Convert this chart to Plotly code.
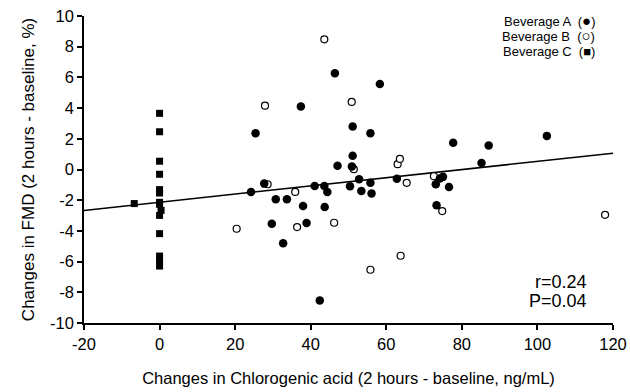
import plotly.graph_objects as go

# Beverage A (filled circles)
bev_a_x = [25.4, 37.4, 46.4, 58.3, 51.1, 55.8, 51.1, 50.9, 47.1, 24.2, 27.7, 30.75, 33.7,
           37.97, 29.7, 38.9, 32.7, 41.05, 43.6, 44.4, 43.7, 42.4, 50.4, 52.8, 53.4, 55.8,
           56.1, 62.8, 73.1, 73.3, 74.2, 75.0, 76.6, 77.7, 87.1, 85.2, 102.5]
bev_a_y = [2.36, 4.10, 6.27, 5.57, 2.80, 2.36, 0.89, 0.19, 0.24, -1.46, -0.92, -1.94, -1.94,
           -2.38, -3.53, -3.49, -4.80, -1.07, -1.07, -1.46, -2.44, -8.53, -1.09, -0.63, -1.40,
           -0.87, -1.57, -0.61, -0.96, -2.33, -0.59, -0.48, -1.14, 1.74, 1.56, 0.43, 2.19]

# Beverage B (open circles)
bev_b_x = [43.6, 27.9, 50.85, 51.4, 63.0, 63.6, 65.4, 28.6, 35.9, 20.4, 36.4, 46.2,
           63.8, 55.8, 72.6, 74.8, 117.9]
bev_b_y = [8.48, 4.16, 4.40, 0.02, 0.35, 0.69, -0.87, -0.96, -1.46, -3.86, -3.75, -3.47,
           -5.62, -6.53, -0.44, -2.71, -2.95]

# Beverage C (filled squares)
bev_c_x = [-6.7, 0, 0, 0, 0, 0, 0, 0, 0, 0.4, 0, 0, 0, 0, 0]
bev_c_y = [-2.22, 3.66, 2.46, 0.54, -0.31, -1.31, -1.53, -2.14, -2.27, -2.66, -2.99,
           -4.18, -5.64, -5.97, -6.29]

# Regression line end points
fit_x = [-20, 120]
fit_y = [-2.67, 1.06]

x_ticks = [-20, 0, 20, 40, 60, 80, 100, 120]
y_ticks = [-10, -8, -6, -4, -2, 0, 2, 4, 6, 8, 10]

legend_names = ["Beverage A", "Beverage B", "Beverage C"]
legend_glyphs = ["\u25cf", "\u25cb", "\u25a0"]
glyph_sizes = [15, 15, 13]
stats_labels = ["r=0.24", "P=0.04"]

FONT = "Liberation Sans, Arial, sans-serif"

fig = go.Figure()
fig.add_trace(go.Scatter(x=fit_x, y=fit_y, mode="lines",
                         line=dict(color="black", width=1.5), showlegend=False,
                         hoverinfo="skip"))
fig.add_trace(go.Scatter(x=bev_b_x, y=bev_b_y, mode="markers", name="Beverage B",
                         marker=dict(symbol="circle", size=7, color="white",
                                     line=dict(color="black", width=1.2)),
                         showlegend=False))
fig.add_trace(go.Scatter(x=bev_a_x, y=bev_a_y, mode="markers", name="Beverage A",
                         marker=dict(symbol="circle", size=8.5, color="black",
                                     line=dict(color="black", width=0)),
                         showlegend=False))
fig.add_trace(go.Scatter(x=bev_c_x, y=bev_c_y, mode="markers", name="Beverage C",
                         marker=dict(symbol="square", size=7, color="black",
                                     line=dict(color="black", width=0)),
                         showlegend=False))

legend_y = [0.984, 0.935, 0.884]
for name, glyph, gs, yy in zip(legend_names, legend_glyphs, glyph_sizes, legend_y):
    fig.add_annotation(x=0.97, y=yy, xref="paper", yref="paper",
                       text=f"{name}  (<span style='font-size:{gs}px'>{glyph}</span>)",
                       showarrow=False, xanchor="right", yanchor="middle",
                       font=dict(size=13, color="black", family=FONT))

stats_y = [0.134, 0.072]
for lab, yy in zip(stats_labels, stats_y):
    fig.add_annotation(x=0.955, y=yy, xref="paper", yref="paper",
                       text=lab, showarrow=False, xanchor="right", yanchor="middle",
                       font=dict(size=18, color="black", family=FONT))

axis_common = dict(showgrid=False, zeroline=False, showline=True, linecolor="black",
                   linewidth=1.5, ticks="outside", tickcolor="black", tickwidth=1.5,
                   ticklen=5, automargin=False, ticklabeloverflow="allow",
                   tickfont=dict(size=16.5, color="black", family=FONT))

fig.update_xaxes(range=[-20, 120], tickvals=x_ticks, ticktext=[str(v) for v in x_ticks],
                 title=dict(text="Changes in Chlorogenic acid (2 hours - baseline, ng/mL)",
                            font=dict(size=16.5, color="black", family=FONT), standoff=21),
                 **axis_common)
fig.update_yaxes(range=[-10, 10], tickvals=y_ticks, ticktext=[str(v) for v in y_ticks],
                 title=dict(text="Changes in FMD (2 hours - baseline, %)",
                            font=dict(size=17, color="black", family=FONT), standoff=11),
                 **axis_common)

fig.update_layout(width=630, height=392, plot_bgcolor="white", paper_bgcolor="white",
                  margin=dict(l=84, r=16.5, t=16, b=69),
                  font=dict(family=FONT, color="black"))

# remove the default page margin so the figure fills the 630x392 window exactly
fig.write_html("out.html", config={"displayModeBar": False},
               post_script="document.body.style.margin='0';"
                           "document.body.style.overflow='hidden';")
